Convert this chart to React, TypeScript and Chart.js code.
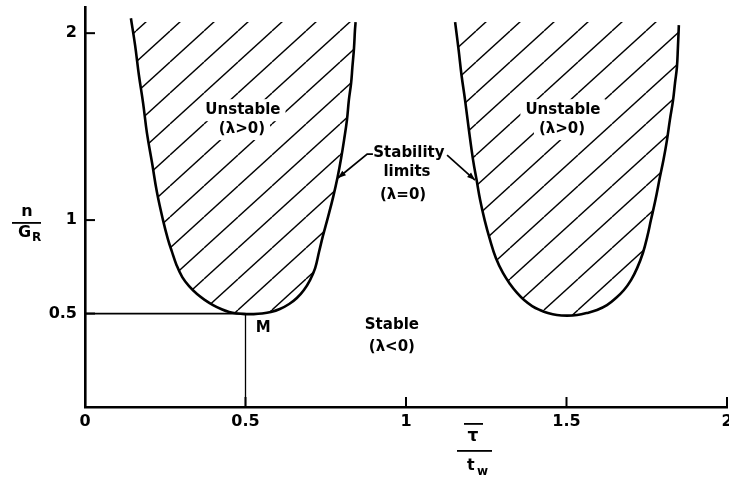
import { useEffect, useRef } from "react";
import { Chart, registerables } from "chart.js";

Chart.register(...registerables);

// Left stability limit (λ = 0): x = τ̄/t_w, y = n/G_R
const leftCurveX = [0.143, 0.156, 0.168, 0.181, 0.193, 0.209, 0.224, 0.243, 0.258, 0.27, 0.285, 0.303, 0.325, 0.349, 0.374, 0.399, 0.424, 0.449, 0.474, 0.498, 0.523, 0.551, 0.579, 0.607, 0.636, 0.66, 0.682, 0.701, 0.717, 0.729, 0.741, 0.757, 0.773, 0.787, 0.798, 0.807, 0.816, 0.822, 0.829, 0.833, 0.838, 0.841, 0.843];
const leftCurveY = [2.08, 1.936, 1.775, 1.626, 1.465, 1.305, 1.15, 1.0, 0.9, 0.835, 0.76, 0.695, 0.645, 0.604, 0.572, 0.545, 0.524, 0.508, 0.5, 0.497, 0.497, 0.5, 0.508, 0.524, 0.551, 0.583, 0.626, 0.679, 0.743, 0.829, 0.914, 1.016, 1.123, 1.23, 1.332, 1.428, 1.535, 1.642, 1.733, 1.818, 1.92, 2.016, 2.059];

// Right stability limit
const rightCurveX = [1.153, 1.164, 1.173, 1.184, 1.196, 1.209, 1.22, 1.231, 1.245, 1.262, 1.28, 1.302, 1.324, 1.346, 1.368, 1.393, 1.417, 1.442, 1.47, 1.502, 1.533, 1.564, 1.595, 1.626, 1.654, 1.679, 1.701, 1.72, 1.738, 1.752, 1.763, 1.777, 1.791, 1.802, 1.813, 1.822, 1.832, 1.838, 1.844, 1.847, 1.85];
const rightCurveY = [2.059, 1.909, 1.775, 1.642, 1.481, 1.321, 1.214, 1.107, 1.0, 0.893, 0.797, 0.717, 0.658, 0.61, 0.572, 0.54, 0.519, 0.503, 0.492, 0.489, 0.492, 0.503, 0.519, 0.545, 0.583, 0.626, 0.679, 0.743, 0.824, 0.914, 1.0, 1.107, 1.23, 1.321, 1.428, 1.535, 1.642, 1.733, 1.818, 1.92, 2.043];

// Upper edge of the hatched (unstable) regions
const hatchTop = 2.06;

// Point M and its guide lines
const pointMX = 0.5;
const pointMY = 0.5;

// Axes
const xMin = 0;
const xMax = 2;
const yMin = 0;
const yMax = 2.14;
const xTickValues = [0, 0.5, 1, 1.5, 2];
const xTickLabels = ["0", "0.5", "1", "1.5", "2"];
const yTickValues = [0.5, 1, 2];
const yTickLabels = ["0.5", "1", "2"];

// Region labels (anchored in data coordinates)
const regionLabels = ["Unstable", "(λ>0)", "Unstable", "(λ>0)", "Stability", "limits", "(λ=0)", "Stable", "(λ<0)", "M"];
const regionLabelX = [0.492, 0.489, 1.489, 1.486, 1.009, 1.003, 0.991, 0.956, 0.956, 0.555];
const regionLabelY = [1.588, 1.487, 1.588, 1.487, 1.358, 1.257, 1.134, 0.439, 0.321, 0.422];

// Leader arrows from "Stability limits" to the curves
const leaderLeftX = [0.897, 0.879, 0.788];
const leaderLeftY = [1.353, 1.353, 1.225];
const leaderRightX = [1.128, 1.215];
const leaderRightY = [1.348, 1.214];

const FONT = "'DejaVu Sans', sans-serif";

function makeHatch(): CanvasPattern | string {
  const w = 34;
  const h = 31;
  const c = document.createElement("canvas");
  c.width = w;
  c.height = h;
  const g = c.getContext("2d");
  if (!g) return "rgba(0,0,0,0)";
  g.strokeStyle = "#000";
  g.lineWidth = 1.4;
  for (const off of [-w, 0, w]) {
    g.beginPath();
    g.moveTo(off, h);
    g.lineTo(off + w, 0);
    g.stroke();
  }
  const p = g.createPattern(c, "repeat");
  return p || "rgba(0,0,0,0)";
}

function arrowHead(ctx: CanvasRenderingContext2D, x0: number, y0: number, x1: number, y1: number) {
  const a = Math.atan2(y1 - y0, x1 - x0);
  const len = 8;
  const hw = 3;
  ctx.beginPath();
  ctx.moveTo(x1, y1);
  ctx.lineTo(x1 - len * Math.cos(a) + hw * Math.sin(a), y1 - len * Math.sin(a) - hw * Math.cos(a));
  ctx.lineTo(x1 - len * Math.cos(a) - hw * Math.sin(a), y1 - len * Math.sin(a) + hw * Math.cos(a));
  ctx.closePath();
  ctx.fill();
}

const annotationPlugin = {
  id: "annotations",
  afterDatasetsDraw(chart: any) {
    const { ctx, chartArea } = chart;
    const x = chart.scales.x;
    const y = chart.scales.y;
    ctx.save();
    ctx.strokeStyle = "#000";
    ctx.fillStyle = "#000";

    // inward tick marks
    ctx.lineWidth = 2;
    yTickValues.forEach((v) => {
      const py = y.getPixelForValue(v);
      ctx.beginPath();
      ctx.moveTo(chartArea.left, py);
      ctx.lineTo(chartArea.left + 10, py);
      ctx.stroke();
    });
    xTickValues.filter((v) => v > 0).forEach((v) => {
      const px = x.getPixelForValue(v);
      ctx.beginPath();
      ctx.moveTo(px, chartArea.bottom);
      ctx.lineTo(px, chartArea.bottom - 10);
      ctx.stroke();
    });

    // region labels with knocked-out background
    ctx.font = `bold 15px ${FONT}`;
    ctx.textAlign = "center";
    ctx.textBaseline = "middle";
    regionLabels.forEach((t, i) => {
      const px = x.getPixelForValue(regionLabelX[i]);
      const py = y.getPixelForValue(regionLabelY[i]);
      const w = ctx.measureText(t).width;
      ctx.fillStyle = "#fff";
      ctx.fillRect(px - w / 2 - 5, py - 11, w + 10, 22);
    });
    ctx.fillStyle = "#000";
    regionLabels.forEach((t, i) => {
      const px = x.getPixelForValue(regionLabelX[i]);
      const py = y.getPixelForValue(regionLabelY[i]);
      ctx.fillText(t, px, py);
    });

    // leaders
    ctx.lineWidth = 1.7;
    const drawLeader = (xs: number[], ys: number[]) => {
      const pts = xs.map((v, i) => [x.getPixelForValue(v), y.getPixelForValue(ys[i])]);
      ctx.beginPath();
      pts.forEach((p, i) => (i === 0 ? ctx.moveTo(p[0], p[1]) : ctx.lineTo(p[0], p[1])));
      ctx.stroke();
      const n = pts.length;
      arrowHead(ctx, pts[n - 2][0], pts[n - 2][1], pts[n - 1][0], pts[n - 1][1]);
    };
    drawLeader(leaderLeftX, leaderLeftY);
    drawLeader(leaderRightX, leaderRightY);

    // y-axis title: n / G_R
    ctx.font = `bold 16px ${FONT}`;
    ctx.textAlign = "center";
    ctx.fillText("n", 27, 212);
    ctx.fillRect(12, 222, 29, 1.8);
    ctx.textAlign = "left";
    ctx.fillText("G", 18, 233);
    ctx.font = `bold 12px ${FONT}`;
    ctx.fillText("R", 32, 238);

    // x-axis title: τ̄ / t_w
    ctx.font = `bold 17px ${FONT}`;
    ctx.textAlign = "center";
    ctx.fillText("τ", 473, 437);
    ctx.fillRect(464, 423, 19, 1.8);
    ctx.fillRect(457, 450, 35, 1.8);
    ctx.textAlign = "left";
    ctx.font = `bold 16px ${FONT}`;
    ctx.fillText("t", 467, 466);
    ctx.font = `bold 12px ${FONT}`;
    ctx.fillText("w", 477, 472);

    ctx.restore();
  },
};

export default function App() {
  const ref = useRef<HTMLCanvasElement | null>(null);

  useEffect(() => {
    if (!ref.current) return;
    const hatch = makeHatch();
    const toPts = (xs: number[], ys: number[]) => xs.map((v, i) => ({ x: v, y: ys[i] }));

    const chart = new Chart(ref.current, {
      type: "line",
      data: {
        datasets: [
          {
            data: toPts(leftCurveX, leftCurveY),
            borderColor: "#000",
            borderWidth: 2.6,
            pointRadius: 0,
            tension: 0.4,
            fill: { value: hatchTop },
            backgroundColor: hatch as any,
          },
          {
            data: toPts(rightCurveX, rightCurveY),
            borderColor: "#000",
            borderWidth: 2.6,
            pointRadius: 0,
            tension: 0.4,
            fill: { value: hatchTop },
            backgroundColor: hatch as any,
          },
          {
            data: [
              { x: xMin, y: pointMY },
              { x: pointMX, y: pointMY },
            ],
            borderColor: "#000",
            borderWidth: 1.8,
            pointRadius: 0,
            fill: false,
          },
          {
            data: [
              { x: pointMX, y: yMin },
              { x: pointMX, y: pointMY },
            ],
            borderColor: "#000",
            borderWidth: 1.3,
            pointRadius: 0,
            fill: false,
          },
        ],
      },
      options: {
        animation: false,
        responsive: false,
        events: [],
        layout: { padding: { left: 0, top: 7, right: 2, bottom: 0 } },
        plugins: {
          legend: { display: false },
          tooltip: { enabled: false },
        },
        scales: {
          x: {
            type: "linear",
            min: xMin,
            max: xMax,
            grid: { display: false, drawTicks: false, tickLength: 0 },
            border: { display: true, color: "#000", width: 2.6 },
            afterBuildTicks: (s: any) => {
              s.ticks = xTickValues.map((v) => ({ value: v }));
            },
            ticks: {
              color: "#000",
              padding: 5,
              maxRotation: 0,
              autoSkip: false,
              font: { family: FONT, size: 16, weight: "bold" },
              callback: (v: any) => {
                const i = xTickValues.indexOf(Number(v));
                return i >= 0 ? xTickLabels[i] : "";
              },
            },
            afterFit: (s: any) => {
              s.height = 70;
              s.paddingLeft = 0;
              s.paddingRight = 0;
            },
          },
          y: {
            type: "linear",
            min: yMin,
            max: yMax,
            grid: { display: false, drawTicks: false, tickLength: 0 },
            border: { display: true, color: "#000", width: 2.6 },
            afterBuildTicks: (s: any) => {
              s.ticks = yTickValues.map((v) => ({ value: v }));
            },
            ticks: {
              color: "#000",
              padding: 8,
              autoSkip: false,
              font: { family: FONT, size: 16, weight: "bold" },
              callback: (v: any) => {
                const i = yTickValues.indexOf(Number(v));
                return i >= 0 ? yTickLabels[i] : "";
              },
            },
            afterFit: (s: any) => {
              s.width = 85;
              s.paddingTop = 0;
              s.paddingBottom = 0;
            },
          },
        },
      },
      plugins: [annotationPlugin],
    });

    return () => chart.destroy();
  }, []);

  return (
    <div style={{ position: "absolute", left: 0, top: 0, width: 729, height: 477, background: "#fff" }}>
      <canvas ref={ref} width={729} height={477} />
    </div>
  );
}
